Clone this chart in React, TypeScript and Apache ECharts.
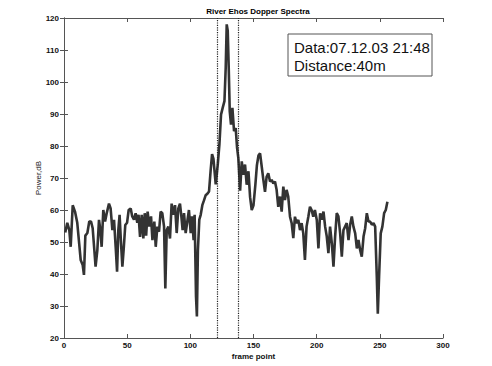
import React, { useEffect, useRef } from "react";
import * as echarts from "echarts";

const titleText = "River Ehos Dopper Spectra";
const xName = "frame point";
const yName = "Power,dB";
const boxLines = ["Data:07.12.03 21:48", "Distance:40m"];
const markerX = [121, 138];

const frameX: number[] = [
  1, 2.6, 4.2, 5.3, 6.9, 8.7, 10.5, 12, 13.2, 14.8, 15.8, 16.9, 18.5, 20, 21.4, 22.7, 24, 25, 26.4, 27.7,
  28.8, 29.8, 31.1, 32.5, 33.8, 35.6, 36.9, 38.3, 39.6, 40.9, 42, 43, 44, 45, 46.2, 47.2, 48.5, 49.9, 51.2, 52.8,
  54, 55.4, 56.7, 58, 59, 60.2, 61.5, 62.8, 63.9, 65, 66.2, 67.5, 68.9, 70, 71.5, 72.6, 73.9, 75.2, 76.5, 77.8,
  79.2, 80.2, 81.3, 82.6, 83.9, 85.2, 86.5, 87.9, 89.2, 90.5, 91.8, 92.9, 93.9, 95, 96.3, 97.6, 98.9, 100.3, 101.3, 102.6,
  103.4, 104.5, 105.2, 106, 107.1, 108.2, 109.5, 110.8, 112.1, 113.5, 114.8, 116.1, 117.2, 118.3, 119.2, 120.1, 121.7, 123, 124.3, 125.6,
  127, 128, 128.8, 129.6, 130.4, 131.2, 132.2, 133.3, 134.6, 135.9, 137, 138, 139.4, 140.7, 142, 143.3, 144.6, 146, 147.3, 148.6,
  150, 151.5, 152.7, 153.9, 155.2, 156.5, 157.8, 159.1, 160.4, 161.7, 163.1, 164.4, 165.7, 167, 168.3, 169.6, 171, 172.3, 173.6, 174.9,
  176.2, 177.5, 178.9, 180.2, 181.5, 182.8, 184.1, 185.5, 186.8, 188.1, 189.4, 190.7, 192, 193.4, 194.7, 196, 197.3, 198.6, 200.1, 201.4,
  202.7, 204, 205.4, 206.7, 208, 209.3, 210.6, 212, 213.3, 214.6, 215.9, 217.2, 218.6, 219.9, 221.2, 222.5, 223.8, 225.2, 226.5, 227.8,
  229.1, 230.5, 231.8, 233.1, 234.4, 235.7, 237.1, 238.4, 239.7, 241, 242.3, 243.7, 245, 246.3, 247.6, 248.4, 249.4, 250.7, 252, 253.4,
  254.7, 256,
];

const powerDb: number[] = [
  53, 56, 53.7, 48.5, 61.5, 59.5, 56, 49.6, 44.4, 42.8, 39.7, 52, 52.8, 56.4, 56.4, 54.3, 47.5, 42.3, 47.5, 56.9,
  53.7, 48.5, 60, 56.4, 59, 62, 60.5, 53.7, 56.9, 48.5, 40.7, 53.7, 58.5, 50.6, 42.3, 47.5, 55.3, 56, 60, 60.5,
  58, 57, 59, 56, 58.5, 51.6, 58.5, 51.1, 59, 52, 59.5, 54.8, 58, 50.6, 56.4, 48.5, 54.8, 53.2, 59.5, 59,
  54.8, 35.5, 53.7, 54.8, 51.1, 62, 58.5, 61.5, 52.8, 60.5, 62, 58, 53.7, 59, 52.8, 56.4, 60, 52.8, 58, 50.6,
  58.5, 32.9, 26.7, 47.5, 57, 58.5, 61.5, 63, 64.6, 65.1, 65.8, 72.5, 77.5, 76, 72, 68, 74.2, 80.4, 89.8, 91.9,
  94, 104.4, 118, 116, 104.4, 90.8, 86.7, 91.9, 84.6, 85.6, 79.4, 76.2, 66, 75.2, 71, 74.2, 67.9, 72.1, 64, 60,
  61.5, 68, 74, 77, 77.7, 73.6, 69.4, 65.7, 70.4, 71.5, 68.9, 69.4, 68.3, 68.9, 66.3, 61, 64.2, 59.5, 67.3, 63.1,
  66.3, 64.2, 57.9, 55.9, 51.2, 57.9, 55.9, 56.9, 53.7, 55.9, 52.7, 44.4, 54.8, 57.9, 61, 60, 57.9, 60, 56.9, 48,
  59, 57, 59.5, 54.8, 51.7, 46.5, 54.8, 49.6, 42.3, 51.7, 59, 58, 52.7, 45.4, 53.7, 54.8, 55.9, 50.6, 55.4, 58,
  54.8, 52.7, 48, 50.6, 47.5, 45.4, 51.7, 54.3, 59, 56.4, 56.4, 55.4, 55.9, 54.8, 39.1, 27.6, 39.1, 52.7, 54.8, 59,
  60, 62.6,
];

const FONT = "Liberation Sans, Arial, Helvetica, sans-serif";

export default function App() {
  const ref = useRef<HTMLDivElement>(null);
  useEffect(() => {
    document.body.style.margin = "0";
    if (!ref.current) return;
    const chart = echarts.init(ref.current, null, { renderer: "svg" });
    const axisLine = { show: true, lineStyle: { color: "#555", width: 1 } };
    const tick = { show: true, inside: true, length: 4, lineStyle: { color: "#555" } };
    const label = { fontFamily: FONT, fontSize: 8, fontWeight: "bold" as const, color: "#111" };
    chart.setOption({
      animation: false,
      backgroundColor: "#fff",
      title: {
        text: titleText,
        left: 253,
        textAlign: "center",
        top: 2,
        textStyle: { fontFamily: FONT, fontSize: 8, fontWeight: "bold", color: "#000" },
      },
      grid: { left: 64, right: 49, top: 18, bottom: 28 },
      xAxis: [
        {
          type: "value",
          min: 0,
          max: 300,
          interval: 50,
          position: "bottom",
          axisLine,
          axisTick: tick,
          splitLine: { show: false },
          axisLabel: { ...label, margin: 3 },
          name: xName,
          nameLocation: "middle",
          nameGap: 14,
          nameMoveOverlap: false,
          nameTextStyle: { fontFamily: FONT, fontSize: 8, fontWeight: "bold", color: "#111" },
        },
        {
          type: "value",
          min: 0,
          max: 300,
          interval: 50,
          position: "top",
          axisLine,
          axisTick: tick,
          splitLine: { show: false },
          axisLabel: { show: false },
        },
      ],
      yAxis: [
        {
          type: "value",
          min: 20,
          max: 120,
          interval: 10,
          position: "left",
          axisLine,
          axisTick: tick,
          splitLine: { show: false },
          axisLabel: { ...label, margin: 5 },
          name: yName,
          nameLocation: "middle",
          nameGap: 22,
          nameMoveOverlap: false,
          nameTextStyle: { fontFamily: FONT, fontSize: 8, color: "#222" },
        },
        {
          type: "value",
          min: 20,
          max: 120,
          interval: 10,
          position: "right",
          axisLine,
          axisTick: tick,
          splitLine: { show: false },
          axisLabel: { show: false },
        },
      ],
      series: [
        {
          type: "line",
          data: frameX.map((x, i) => [x, powerDb[i]]),
          showSymbol: false,
          symbol: "none",
          lineStyle: { color: "#333", width: 2.6 },
          markLine: {
            silent: true,
            symbol: "none",
            label: { show: false },
            lineStyle: { color: "#222", type: "dotted", width: 1.2 },
            data: markerX.map((x) => ({ xAxis: x })),
          },
        },
      ],
      graphic: [
        {
          type: "rect",
          shape: { x: 288, y: 34, width: 144, height: 42 },
          style: { fill: "#fff", stroke: "#555", lineWidth: 1 },
          z: 10,
        },
        {
          type: "text",
          x: 294,
          y: 47,
          style: { text: boxLines[0], fontFamily: FONT, fontSize: 15, fill: "#111", textVerticalAlign: "middle" },
          z: 11,
        },
        {
          type: "text",
          x: 294,
          y: 65,
          style: { text: boxLines[1], fontFamily: FONT, fontSize: 15, fill: "#111", textVerticalAlign: "middle" },
          z: 11,
        },
      ],
    });
    return () => chart.dispose();
  }, []);
  return <div ref={ref} style={{ width: 492, height: 366 }} />;
}
